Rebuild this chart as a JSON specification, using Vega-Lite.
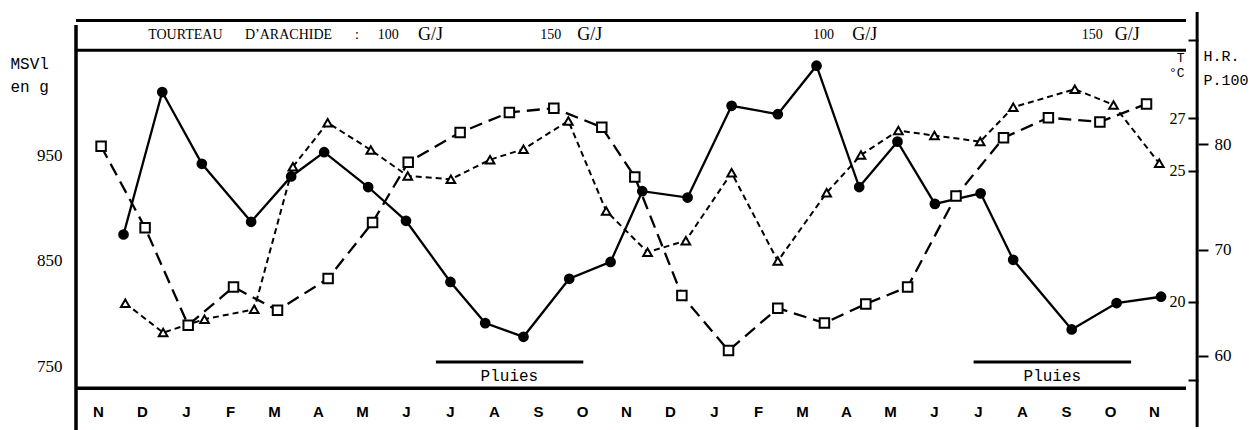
{
  "$schema": "https://vega.github.io/schema/vega-lite/v6.json",
  "width": 1110,
  "height": 368,
  "autosize": {"type": "none"},
  "padding": {"left": 76, "top": 20, "right": 71, "bottom": 42},
  "background": "white",
  "config": {
    "view": {"stroke": null},
    "axis": {"labelColor": "black", "titleColor": "black", "grid": false}
  },
  "datasets": {
    "msvi": [
      {"t": 0.58, "v": 875}, {"t": 1.46, "v": 1010}, {"t": 2.36, "v": 942}, {"t": 3.48, "v": 887},
      {"t": 4.39, "v": 930}, {"t": 5.14, "v": 953}, {"t": 6.14, "v": 920}, {"t": 7.0, "v": 888},
      {"t": 8.01, "v": 830}, {"t": 8.8, "v": 791}, {"t": 9.67, "v": 778}, {"t": 10.71, "v": 833},
      {"t": 11.65, "v": 849}, {"t": 12.37, "v": 916}, {"t": 13.4, "v": 910}, {"t": 14.4, "v": 997},
      {"t": 15.45, "v": 989}, {"t": 16.33, "v": 1035}, {"t": 17.3, "v": 920}, {"t": 18.17, "v": 963},
      {"t": 19.02, "v": 904}, {"t": 20.06, "v": 914}, {"t": 20.8, "v": 851}, {"t": 22.13, "v": 785},
      {"t": 23.15, "v": 810}, {"t": 24.16, "v": 816}
    ],
    "hr": [
      {"t": 0.07, "h": 79.8}, {"t": 1.07, "h": 72.1}, {"t": 2.05, "h": 62.9}, {"t": 3.08, "h": 66.5},
      {"t": 4.08, "h": 64.3}, {"t": 5.23, "h": 67.3}, {"t": 6.24, "h": 72.6}, {"t": 7.05, "h": 78.3},
      {"t": 8.23, "h": 81.1}, {"t": 9.35, "h": 83.0}, {"t": 10.36, "h": 83.4}, {"t": 11.45, "h": 81.6},
      {"t": 12.2, "h": 76.9}, {"t": 13.27, "h": 65.7}, {"t": 14.33, "h": 60.5}, {"t": 15.45, "h": 64.5},
      {"t": 16.51, "h": 63.1}, {"t": 17.45, "h": 64.9}, {"t": 18.4, "h": 66.5}, {"t": 19.5, "h": 75.1},
      {"t": 20.58, "h": 80.6}, {"t": 21.6, "h": 82.5}, {"t": 22.77, "h": 82.1}, {"t": 23.83, "h": 83.8}
    ],
    "temp": [
      {"t": 0.62, "c": 19.94}, {"t": 1.48, "c": 18.82}, {"t": 2.42, "c": 19.33}, {"t": 3.55, "c": 19.71},
      {"t": 4.43, "c": 25.15}, {"t": 5.22, "c": 26.83}, {"t": 6.2, "c": 25.79}, {"t": 7.04, "c": 24.8},
      {"t": 8.02, "c": 24.67}, {"t": 8.91, "c": 25.42}, {"t": 9.67, "c": 25.82}, {"t": 10.69, "c": 26.9},
      {"t": 11.55, "c": 23.46}, {"t": 12.49, "c": 21.89}, {"t": 13.36, "c": 22.33}, {"t": 14.4, "c": 24.92},
      {"t": 15.45, "c": 21.55}, {"t": 16.56, "c": 24.16}, {"t": 17.34, "c": 25.6}, {"t": 18.19, "c": 26.53},
      {"t": 19.01, "c": 26.34}, {"t": 20.05, "c": 26.11}, {"t": 20.8, "c": 27.42}, {"t": 22.2, "c": 28.11},
      {"t": 23.08, "c": 27.51}, {"t": 24.12, "c": 25.28}
    ],
    "annotations": [
      {"t": 1.14, "label": "TOURTEAU"}, {"t": 3.34, "label": "D’ARACHIDE"}, {"t": 5.84, "label": ":"},
      {"t": 6.36, "label": "100"}, {"t": 7.27, "label": "G/J"},
      {"t": 10.05, "label": "150"}, {"t": 10.89, "label": "G/J"},
      {"t": 16.25, "label": "100"}, {"t": 17.14, "label": "G/J"},
      {"t": 22.36, "label": "150"}, {"t": 23.11, "label": "G/J"}
    ],
    "rains": [
      {"start": 7.68, "end": 11.03, "mid": 9.35, "label": "Pluies"},
      {"start": 19.9, "end": 23.48, "mid": 21.69, "label": "Pluies"}
    ]
  },
  "layer": [
    {
      "data": {"values": [{}]},
      "mark": {"type": "rule", "color": "black", "strokeWidth": 3.5},
      "encoding": {
        "x": {"datum": -0.5, "type": "quantitative", "scale": {"domain": [-0.5, 24.7273], "nice": false, "zero": false}, "axis": null},
        "y": {"datum": 1073.6, "type": "quantitative", "scale": {"domain": [729.5, 1078.3], "nice": false, "zero": false}, "axis": null},
        "y2": {"datum": 689.7}
      }
    },
    {
      "data": {"values": [{}]},
      "mark": {"type": "rule", "color": "black", "strokeWidth": 3},
      "encoding": {
        "x": {"datum": -0.5, "type": "quantitative", "scale": {"domain": [-0.5, 24.7273], "nice": false, "zero": false}, "axis": null},
        "x2": {"datum": 24.7273},
        "y": {"datum": 1077.8, "type": "quantitative", "scale": {"domain": [729.5, 1078.3], "nice": false, "zero": false}, "axis": null}
      }
    },
    {
      "data": {"values": [{}]},
      "mark": {"type": "rule", "color": "black", "strokeWidth": 3},
      "encoding": {
        "x": {"datum": -0.5, "type": "quantitative", "scale": {"domain": [-0.5, 24.7273], "nice": false, "zero": false}, "axis": null},
        "x2": {"datum": 24.7273},
        "y": {"datum": 1049.6, "type": "quantitative", "scale": {"domain": [729.5, 1078.3], "nice": false, "zero": false}, "axis": null}
      }
    },
    {
      "data": {"values": [{}]},
      "mark": {"type": "rule", "color": "black", "strokeWidth": 3.5},
      "encoding": {
        "x": {"datum": -0.5, "type": "quantitative", "scale": {"domain": [-0.5, 24.7273], "nice": false, "zero": false}, "axis": null},
        "x2": {"datum": 24.7273},
        "y": {"datum": 729.3, "type": "quantitative", "scale": {"domain": [729.5, 1078.3], "nice": false, "zero": false}, "axis": null}
      }
    },
    {
      "data": {"values": [{}]},
      "mark": {"type": "rule", "color": "black", "strokeWidth": 3},
      "encoding": {
        "x": {"datum": 24.98, "type": "quantitative", "scale": {"domain": [-0.5, 24.7273], "nice": false, "zero": false}, "axis": null},
        "y": {"datum": 1085.9, "type": "quantitative", "scale": {"domain": [729.5, 1078.3], "nice": false, "zero": false}, "axis": null},
        "y2": {"datum": 692.6}
      }
    },
    {
      "data": {"name": "annotations"},
      "mark": {"type": "text", "align": "left", "baseline": "middle", "font": "Liberation Serif", "color": "black"},
      "encoding": {
        "x": {"field": "t", "type": "quantitative", "scale": {"domain": [-0.5, 24.7273], "nice": false, "zero": false}, "axis": null},
        "y": {"datum": 1064.5, "type": "quantitative", "scale": {"domain": [729.5, 1078.3], "nice": false, "zero": false}, "axis": null},
        "text": {"field": "label"},
        "size": {"condition": {"test": "datum.label == 'G/J'", "value": 18}, "value": 14}
      }
    },
    {
      "data": {"name": "rains"},
      "mark": {"type": "rule", "color": "black", "strokeWidth": 3},
      "encoding": {
        "x": {"field": "start", "type": "quantitative", "scale": {"domain": [-0.5, 24.7273], "nice": false, "zero": false}, "axis": null},
        "x2": {"field": "end"},
        "y": {"datum": 754.2, "type": "quantitative", "scale": {"domain": [729.5, 1078.3], "nice": false, "zero": false}, "axis": null}
      }
    },
    {
      "data": {"name": "rains"},
      "mark": {"type": "text", "align": "center", "baseline": "middle", "font": "Liberation Mono", "fontSize": 16, "color": "black"},
      "encoding": {
        "x": {"field": "mid", "type": "quantitative", "scale": {"domain": [-0.5, 24.7273], "nice": false, "zero": false}, "axis": null},
        "y": {"datum": 741, "type": "quantitative", "scale": {"domain": [729.5, 1078.3], "nice": false, "zero": false}, "axis": null},
        "text": {"field": "label"}
      }
    },
    {
      "data": {"name": "msvi"},
      "mark": {"type": "line", "color": "black", "strokeWidth": 2.3},
      "encoding": {
        "x": {
          "field": "t",
          "type": "quantitative",
          "scale": {"domain": [-0.5, 24.7273], "nice": false, "zero": false},
          "axis": {
            "values": [0,1,2,3,4,5,6,7,8,9,10,11,12,13,14,15,16,17,18,19,20,21,22,23,24],
            "labelExpr": "['N','D','J','F','M','A','M','J','J','A','S','O','N','D','J','F','M','A','M','J','J','A','S','O','N'][datum.value]",
            "ticks": false,
            "tickSize": 0,
            "domain": false,
            "grid": false,
            "title": null,
            "labelFont": "Liberation Sans",
            "labelFontWeight": "bold",
            "labelFontSize": 15,
            "labelBaseline": "middle",
            "labelPadding": 23,
            "labelAngle": 0,
            "labelFlush": false,
            "labelOverlap": false
          }
        },
        "y": {
          "field": "v", "type": "quantitative",
          "scale": {"domain": [729.5, 1078.3], "nice": false, "zero": false},
          "axis": {
            "values": [750, 850, 950],
            "ticks": false,
            "tickSize": 0,
            "domain": false,
            "grid": false,
            "labelPadding": 14,
            "labelFont": "Liberation Serif",
            "labelFontSize": 17,
            "title": ["MSVl", "en g"],
            "titleAngle": 0,
            "titleAlign": "left",
            "titleBaseline": "top",
            "titleX": -66,
            "titleY": 35,
            "titleFont": "Liberation Mono",
            "titleFontSize": 16,
            "titleFontWeight": "normal",
            "titleLineHeight": 23
          }
        }
      }
    },
    {
      "data": {"name": "hr"},
      "mark": {"type": "line", "color": "black", "strokeWidth": 2.3, "strokeDash": [13, 7]},
      "encoding": {
        "x": {"field": "t", "type": "quantitative", "scale": {"domain": [-0.5, 24.7273], "nice": false, "zero": false}, "axis": null},
        "y": {
          "field": "h", "type": "quantitative",
          "scale": {"domain": [56.96, 91.73], "nice": false, "zero": false},
          "axis": {
            "orient": "right",
            "offset": 12,
            "values": [60, 70, 80],
            "domain": false,
            "grid": false,
            "tickSize": 10,
            "tickWidth": 2,
            "tickColor": "black",
            "labelPadding": 6,
            "labelAlign": "left",
            "labelFont": "Liberation Serif",
            "labelFontSize": 17,
            "title": ["H.R.", "P.100"],
            "titleAngle": 0,
            "titleAlign": "left",
            "titleBaseline": "top",
            "titleX": 5,
            "titleY": 28,
            "titleFont": "Liberation Mono",
            "titleFontSize": 15,
            "titleFontWeight": "normal",
            "titleLineHeight": 24
          }
        }
      }
    },
    {
      "data": {"name": "temp"},
      "mark": {"type": "line", "color": "black", "strokeWidth": 2, "strokeDash": [6, 4]},
      "encoding": {
        "x": {"field": "t", "type": "quantitative", "scale": {"domain": [-0.5, 24.7273], "nice": false, "zero": false}, "axis": null},
        "y": {
          "field": "c", "type": "quantitative",
          "scale": {"domain": [16.706, 30.75], "nice": false, "zero": false},
          "axis": {
            "orient": "right",
            "offset": 12,
            "values": [17, 20, 25, 27, 30],
            "labelExpr": "datum.value == 17 || datum.value == 30 ? '' : datum.label",
            "domain": false,
            "grid": false,
            "tickSize": -10,
            "tickWidth": 2,
            "tickColor": "black",
            "labelPadding": -3,
            "labelAlign": "right",
            "labelFont": "Liberation Serif",
            "labelFontSize": 16,
            "title": ["T", "°C"],
            "titleAngle": 0,
            "titleAlign": "right",
            "titleBaseline": "top",
            "titleX": -14,
            "titleY": 31,
            "titleFont": "Liberation Mono",
            "titleFontSize": 13,
            "titleFontWeight": "normal",
            "titleLineHeight": 15
          }
        }
      }
    },
    {
      "data": {"name": "hr"},
      "mark": {"type": "point", "shape": "square", "filled": true, "fill": "white", "stroke": "black", "strokeWidth": 2, "size": 90, "opacity": 1},
      "encoding": {
        "x": {"field": "t", "type": "quantitative", "scale": {"domain": [-0.5, 24.7273], "nice": false, "zero": false}, "axis": null},
        "y": {"field": "h", "type": "quantitative", "scale": {"domain": [56.96, 91.73], "nice": false, "zero": false}, "axis": null}
      }
    },
    {
      "data": {"name": "temp"},
      "mark": {"type": "point", "shape": "triangle-up", "filled": true, "fill": "white", "stroke": "black", "strokeWidth": 2, "size": 75, "opacity": 1},
      "encoding": {
        "x": {"field": "t", "type": "quantitative", "scale": {"domain": [-0.5, 24.7273], "nice": false, "zero": false}, "axis": null},
        "y": {"field": "c", "type": "quantitative", "scale": {"domain": [16.706, 30.75], "nice": false, "zero": false}, "axis": null}
      }
    },
    {
      "data": {"name": "msvi"},
      "mark": {"type": "point", "shape": "circle", "filled": true, "color": "black", "size": 115, "opacity": 1},
      "encoding": {
        "x": {"field": "t", "type": "quantitative", "scale": {"domain": [-0.5, 24.7273], "nice": false, "zero": false}, "axis": null},
        "y": {"field": "v", "type": "quantitative", "scale": {"domain": [729.5, 1078.3], "nice": false, "zero": false}, "axis": null}
      }
    }
  ],
  "resolve": {"scale": {"y": "independent"}, "axis": {"x": "independent"}}
}
